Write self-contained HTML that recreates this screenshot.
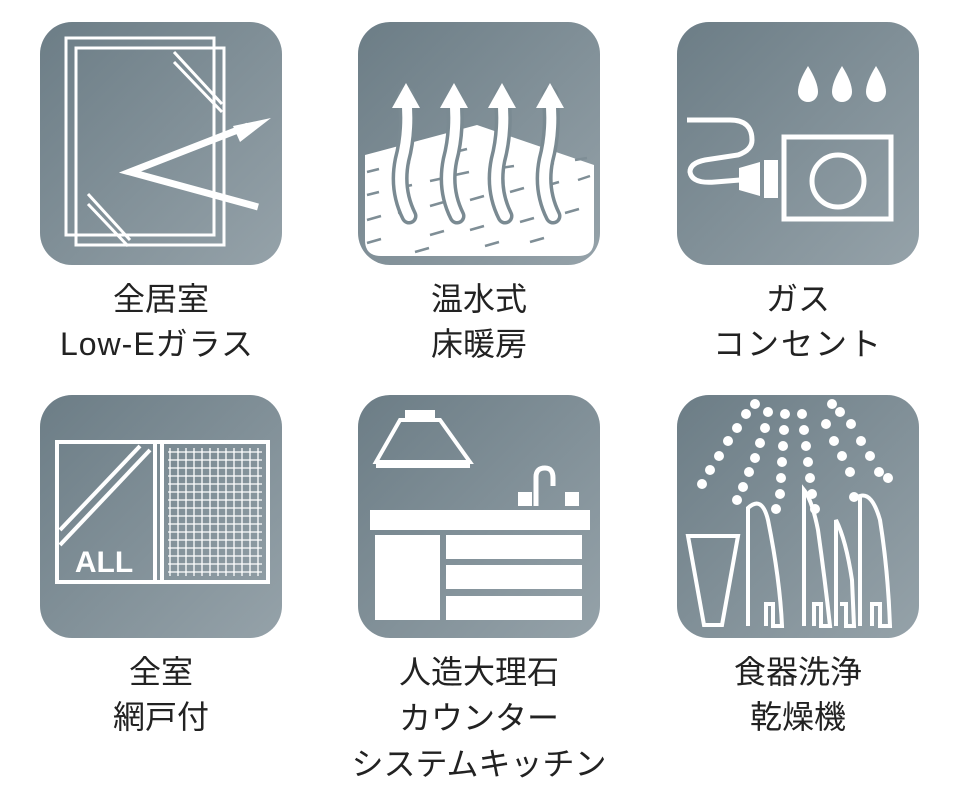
<!DOCTYPE html>
<html><head><meta charset="utf-8"><style>
html,body{margin:0;padding:0;background:#fff;width:957px;height:800px;overflow:hidden}
svg{display:block}
text{font-family:"Liberation Sans","Noto Sans CJK JP",sans-serif;font-size:32px;fill:#222;text-anchor:middle}
</style></head><body>
<svg width="957" height="800" viewBox="0 0 957 800">
<defs>
<linearGradient id="g" x1="0" y1="0" x2="1" y2="1">
<stop offset="0" stop-color="#6c7d86"/><stop offset="1" stop-color="#95a2a9"/>
</linearGradient>
</defs>
<g fill="url(#g)">
<rect x="40" y="22" width="242" height="243" rx="32"/>
<rect x="358" y="22" width="242" height="243" rx="32"/>
<rect x="677" y="22" width="242" height="243" rx="32"/>
<rect x="40" y="395" width="242" height="243" rx="32"/>
<rect x="358" y="395" width="242" height="243" rx="32"/>
<rect x="677" y="395" width="242" height="243" rx="32"/>
</g>
<!-- icon 1 -->
<g stroke="#fff" fill="none" stroke-width="3">
<rect x="66" y="38" width="148" height="197"/>
<rect x="76" y="48" width="148" height="197"/>
<line x1="174" y1="52" x2="222" y2="104"/><line x1="174" y1="62" x2="222" y2="112"/>
<line x1="88" y1="194" x2="130" y2="240"/><line x1="88" y1="204" x2="128" y2="246"/>
</g>
<path d="M258 207 L130 172 L248 126" stroke="#fff" stroke-width="7" fill="none"/>
<polygon points="271,118 240,142 233,126" fill="#fff"/>
<!-- icon 2 -->
<path d="M365 155 L477 125 L594 165 L594 240 Q594 256 578 256 L381 256 Q365 256 365 240 Z" fill="#fff"/>
<g stroke="#7f8e96" stroke-width="2.5">
<path d="M367 172 l12 -3 M398 165 l12 -3 M455 152 l12 -3 M540 148 l12 3"/>
<path d="M367 195 l12 -3 M398 188 l14 -3 M430 181 l14 -3 M455 175 l14 -3 M500 168 l14 -2 M540 165 l14 -2 M575 160 l12 -2"/>
<path d="M367 220 l14 -4 M398 213 l14 -4 M430 206 l14 -4 M470 200 l14 -4 M510 192 l14 -4 M545 186 l14 -4 M578 180 l12 -4"/>
<path d="M367 243 l14 -4 M430 235 l14 -4 M470 230 l14 -4 M520 222 l14 -4 M565 213 l14 -4"/>
<path d="M415 252 l14 -4 M485 246 l14 -4 M530 242 l14 -4"/>
</g>
<g stroke="#7a8a92" stroke-width="17" fill="none" stroke-linecap="round">
<path d="M409 216 Q396 190 402 160 Q410 130 406 95"/>
<path d="M457 216 Q444 190 450 160 Q458 130 454 95"/>
<path d="M505 216 Q492 190 498 160 Q506 130 502 95"/>
<path d="M553 216 Q540 190 546 160 Q554 130 550 95"/>
</g>
<g stroke="#fff" stroke-width="10" fill="none" stroke-linecap="round">
<path d="M409 216 Q396 190 402 160 Q410 130 406 95"/>
<path d="M457 216 Q444 190 450 160 Q458 130 454 95"/>
<path d="M505 216 Q492 190 498 160 Q506 130 502 95"/>
<path d="M553 216 Q540 190 546 160 Q554 130 550 95"/>
</g>
<g fill="#fff"><polygon points="406,83 392,108 420,108"/><polygon points="454,83 440,108 468,108"/><polygon points="502,83 488,108 516,108"/><polygon points="550,83 536,108 564,108"/></g>
<!-- icon 3 -->
<g fill="#fff">
<path d="M808 66 q-10 16 -10 26 a10 10 0 0 0 20 0 q0 -10 -10 -26z"/>
<path d="M842 66 q-10 16 -10 26 a10 10 0 0 0 20 0 q0 -10 -10 -26z"/>
<path d="M876 66 q-10 16 -10 26 a10 10 0 0 0 20 0 q0 -10 -10 -26z"/>
</g>
<g stroke="#fff" fill="none" stroke-width="5">
<rect x="784" y="137" width="107" height="82"/>
<circle cx="838" cy="181" r="26"/>
<path d="M687 120 L730 120 Q752 120 752 140 Q752 150 738 155 L705 160 Q690 163 690 172 Q692 184 715 182 L740 180"/>
</g>
<path d="M739 168 L760 162 L760 196 L739 190 Z" fill="#fff"/>
<rect x="764" y="160" width="14" height="38" fill="#fff"/>
<!-- icon 4 -->
<g stroke="#fff" fill="none" stroke-width="4">
<rect x="57" y="442" width="211" height="140"/>
<line x1="155" y1="442" x2="155" y2="582"/>
<line x1="162" y1="442" x2="162" y2="582"/>
<line x1="60" y1="530" x2="140" y2="446"/><line x1="60" y1="545" x2="150" y2="450"/>
</g>
<g stroke="#fff" stroke-width="1.3">
<path d="M168 452h94M168 460h94M168 468h94M168 476h94M168 484h94M168 492h94M168 500h94M168 508h94M168 516h94M168 524h94M168 532h94M168 540h94M168 548h94M168 556h94M168 564h94M168 572h94"/>
<path d="M170 448v128M178 448v128M186 448v128M194 448v128M202 448v128M210 448v128M218 448v128M226 448v128M234 448v128M242 448v128M250 448v128M258 448v128"/>
</g>
<text x="104" y="572" style="font-size:30px;font-weight:bold;fill:#fff">ALL</text>
<!-- icon 5 -->
<g fill="#fff">
<rect x="405" y="410" width="30" height="10"/>
<path d="M400 420 L440 420 L470 462 L376 462 Z" fill="none" stroke="#fff" stroke-width="4"/>
<rect x="376" y="462" width="94" height="6"/>
<rect x="370" y="510" width="220" height="20"/>
<rect x="375" y="535" width="65" height="85"/>
<rect x="446" y="535" width="136" height="24"/>
<rect x="446" y="565" width="136" height="24"/>
<rect x="446" y="596" width="136" height="24"/>
<rect x="518" y="492" width="14" height="14"/><rect x="565" y="492" width="14" height="14"/>
</g>
<path d="M536 506 L536 477 Q536 468 545 468 Q553 468 553 478 L553 486" stroke="#fff" stroke-width="5" fill="none"/>
<!-- icon 6 -->
<g fill="#fff">
<circle cx="755" cy="404" r="5"/><circle cx="746" cy="414" r="5"/><circle cx="737" cy="428" r="5"/><circle cx="728" cy="441" r="5"/><circle cx="719" cy="456" r="5"/><circle cx="710" cy="470" r="5"/><circle cx="702" cy="484" r="5"/>
<circle cx="768" cy="412" r="5"/><circle cx="765" cy="428" r="5"/><circle cx="760" cy="443" r="5"/><circle cx="755" cy="458" r="5"/><circle cx="749" cy="472" r="5"/><circle cx="743" cy="487" r="5"/><circle cx="737" cy="500" r="5"/>
<circle cx="785" cy="414" r="5"/><circle cx="784" cy="430" r="5"/><circle cx="783" cy="446" r="5"/><circle cx="782" cy="462" r="5"/><circle cx="781" cy="478" r="5"/><circle cx="780" cy="494" r="5"/><circle cx="776" cy="509" r="5"/>
<circle cx="802" cy="414" r="5"/><circle cx="804" cy="430" r="5"/><circle cx="806" cy="446" r="5"/><circle cx="808" cy="462" r="5"/><circle cx="810" cy="478" r="5"/><circle cx="812" cy="494" r="5"/><circle cx="815" cy="509" r="5"/>
<circle cx="832" cy="404" r="5"/><circle cx="840" cy="412" r="5"/><circle cx="826" cy="424" r="5"/><circle cx="834" cy="441" r="5"/><circle cx="842" cy="456" r="5"/><circle cx="850" cy="472" r="5"/><circle cx="854" cy="497" r="5"/>
<circle cx="851" cy="424" r="5"/><circle cx="861" cy="441" r="5"/><circle cx="870" cy="456" r="5"/><circle cx="879" cy="472" r="5"/><circle cx="888" cy="478" r="5"/>
</g>
<g stroke="#fff" stroke-width="4" fill="none">
<path d="M688 536 L738 536 L722 625 L704 625 Z"/>
<path d="M748 626 L748 508 Q762 495 768 520 Q780 580 782 626 L773 626 L773 604 L766 604 L766 626"/>
<path d="M804 626 L804 490 Q812 500 818 530 Q825 580 830 626 L821 626 L821 604 L814 604 L814 626"/>
<path d="M836 626 L836 520 Q846 540 852 580 L854 626 L846 626 L846 604 L840 604"/>
<path d="M860 626 L860 496 Q872 492 880 520 Q888 570 890 626 L880 626 L880 604 L872 604 L872 626"/>
</g>
<!-- labels -->
<text x="161" y="310">全居室</text>
<text x="157" y="355" style="letter-spacing:1px">Low-Eガラス</text>
<text x="479" y="310">温水式</text>
<text x="479" y="355">床暖房</text>
<text x="798" y="310">ガス</text>
<text x="798" y="355" style="letter-spacing:2px">コンセント</text>
<text x="161" y="683">全室</text>
<text x="161" y="728">網戸付</text>
<text x="479" y="683">人造大理石</text>
<text x="479" y="729">カウンター</text>
<text x="479" y="775">システムキッチン</text>
<text x="798" y="683">食器洗浄</text>
<text x="798" y="728">乾燥機</text>
</svg>
</body></html>
